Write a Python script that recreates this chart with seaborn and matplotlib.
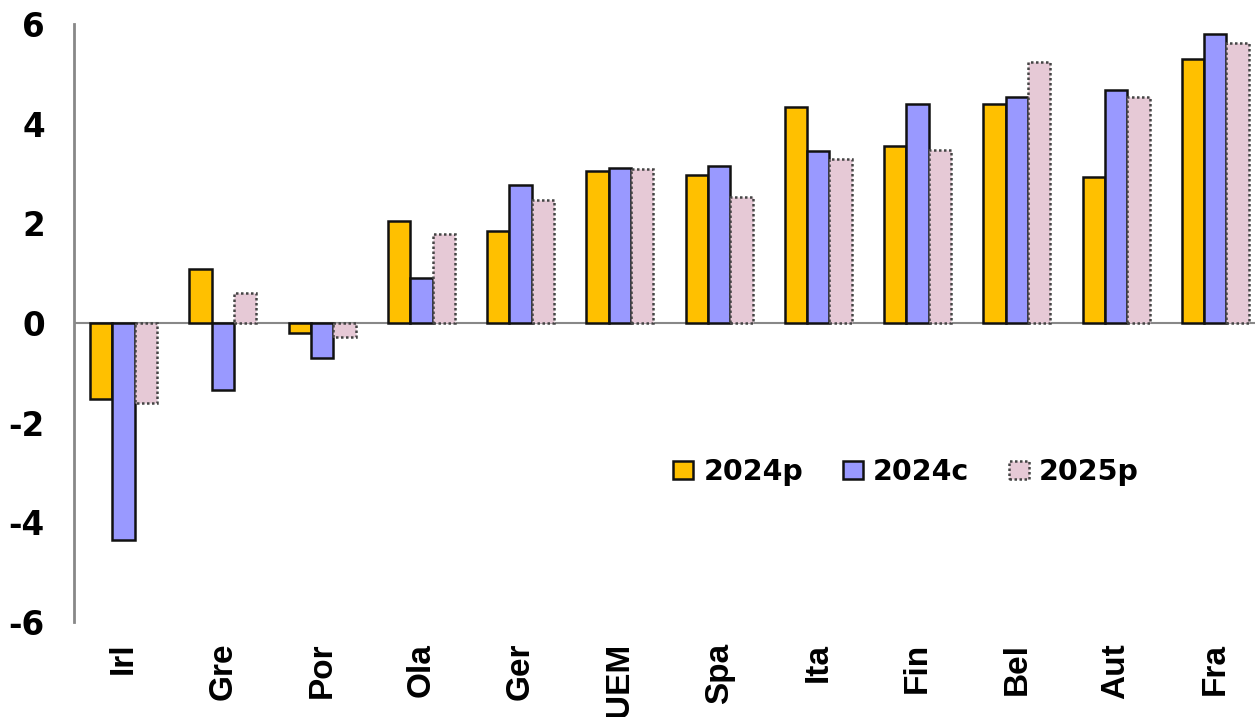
import matplotlib
matplotlib.use("Agg")
import matplotlib.pyplot as plt
import seaborn as sns
import pandas as pd

countries = ["Irl", "Gre", "Por", "Ola", "Ger", "UEM", "Spa", "Ita", "Fin", "Bel", "Aut", "Fra"]
series_names = ["2024p", "2024c", "2025p"]
v_2024p = [-1.52, 1.08, -0.20, 2.05, 1.84, 3.05, 2.96, 4.34, 3.55, 4.39, 2.92, 5.30]
v_2024c = [-4.36, -1.35, -0.70, 0.90, 2.76, 3.11, 3.15, 3.45, 4.40, 4.53, 4.68, 5.80]
v_2025p = [-1.60, 0.60, -0.28, 1.78, 2.46, 3.10, 2.52, 3.29, 3.47, 5.23, 4.53, 5.62]
y_ticks = [-6, -4, -2, 0, 2, 4, 6]

colors = ["#FFC000", "#9999FF", "#E6C9D6"]

df = pd.DataFrame({
    "country": countries * 3,
    "serie": sum([[s] * len(countries) for s in series_names], []),
    "value": v_2024p + v_2024c + v_2025p,
})

sns.set_theme(style="white")
plt.rcParams["font.family"] = ["DejaVu Sans"]
plt.rcParams["font.weight"] = "bold"
plt.rcParams["text.color"] = "black"
plt.rcParams["xtick.color"] = "black"
plt.rcParams["ytick.color"] = "black"

fig = plt.figure(figsize=(12.55, 7.17), dpi=100)
ax = fig.add_axes([74 / 1255, 1 - 622 / 717, 1 - 74 / 1255, (622 - 24) / 717])

sns.barplot(data=df, x="country", y="value", hue="serie", order=countries,
            hue_order=series_names, palette=colors, width=0.675, gap=0,
            saturation=1, ax=ax, legend=True)

for i, cont in enumerate(ax.containers):
    for bar in cont:
        if i < 2:
            bar.set_edgecolor("#111111")
            bar.set_linewidth(1.8)
            bar.set_linestyle("-")
        else:
            bar.set_edgecolor("#444444")
            bar.set_linewidth(1.8)
            bar.set_linestyle((0, (1, 1)))

ax.set_ylim(-6, 6)
ax.set_xlim(-0.5, 11.4)
ax.set_yticks(y_ticks)
ax.set_yticklabels([str(t) for t in y_ticks])
ax.axhline(0, color="#888888", lw=1.5, zorder=0)

for side in ["top", "right", "bottom"]:
    ax.spines[side].set_visible(False)
ax.spines["left"].set_color("#888888")
ax.spines["left"].set_linewidth(2)

ax.tick_params(axis="y", length=0, pad=21, labelsize=23.5)
ax.tick_params(axis="x", length=0, pad=15, rotation=90)
for lbl in ax.get_yticklabels():
    lbl.set_fontweight("bold")
for lbl in ax.get_xticklabels():
    lbl.set_fontweight("bold")
    lbl.set_fontfamily(["Liberation Sans", "DejaVu Sans"])
    lbl.set_fontsize(24)
ax.set_xlabel("")
ax.set_ylabel("")

handles, labels = ax.get_legend_handles_labels()
for i, h in enumerate(handles):
    if i < 2:
        h.set_edgecolor("#111111")
        h.set_linewidth(1.8)
    else:
        h.set_edgecolor("#444444")
        h.set_linewidth(1.8)
        h.set_linestyle((0, (1, 1)))
ax.get_legend().remove()
fig.legend(handles, labels, loc="center", bbox_to_anchor=(906 / 1255, 1 - 472 / 717),
           ncol=3, frameon=False, prop={"size": 20.5, "weight": "bold"},
           handlelength=0.70, handleheight=0.63, handletextpad=0.35, columnspacing=1.4)

fig.savefig("out.png", dpi=100)
